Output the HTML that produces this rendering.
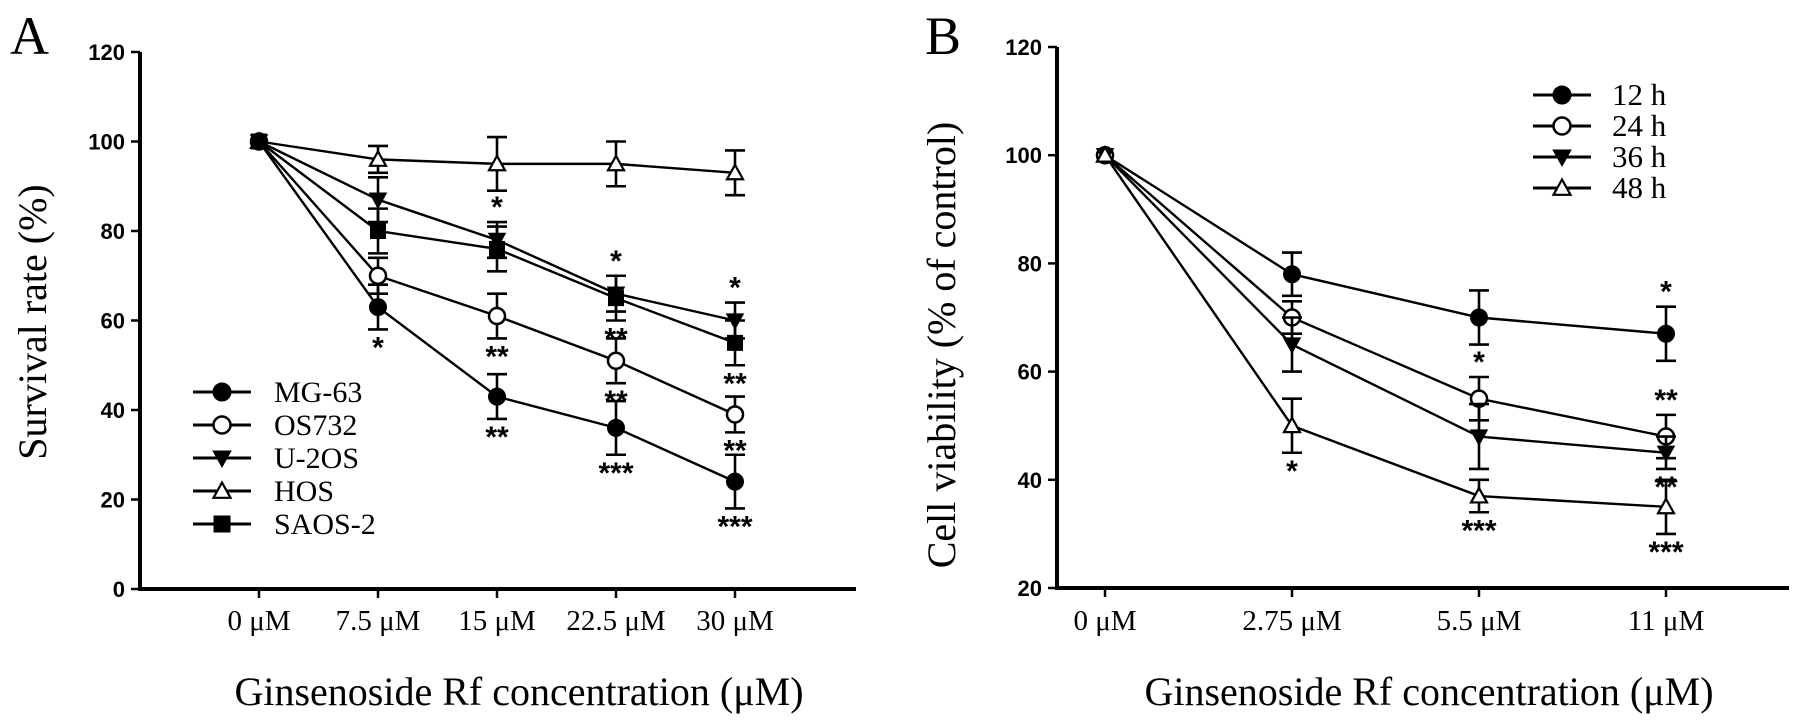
<!DOCTYPE html>
<html><head><meta charset="utf-8"><style>
html,body{margin:0;padding:0;background:#fff;}
svg{display:block;}
.tick{font-family:"Liberation Sans",sans-serif;font-weight:bold;font-size:22px;}
.ser{font-family:"Liberation Serif",serif;}
</style></head><body>
<svg id="fig" width="1795" height="724" viewBox="0 0 1795 724" xmlns="http://www.w3.org/2000/svg"></svg>
<script>
// Panel A data
const catsA = ["0 \u03bcM","7.5 \u03bcM","15 \u03bcM","22.5 \u03bcM","30 \u03bcM"];
const ticksA = [0,20,40,60,80,100,120];
const namesA = ["MG-63","OS732","U-2OS","HOS","SAOS-2"];
const mg63 = [100,63,43,36,24];
const mg63Err = [0,5,5,6,6];
const os732 = [100,70,61,51,39];
const os732Err = [0,4,5,5,4];
const u2os = [100,87,78,66,60];
const u2osErr = [0,5,4,4,4];
const hos = [100,96,95,95,93];
const hosErr = [0,3,6,5,5];
const saos2 = [100,80,76,65,55];
const saos2Err = [0,5,5,5,5];
// Panel B data
const catsB = ["0 \u03bcM","2.75 \u03bcM","5.5 \u03bcM","11 \u03bcM"];
const ticksB = [20,40,60,80,100,120];
const namesB = ["12 h","24 h","36 h","48 h"];
const h12 = [100,78,70,67];
const h12Err = [0,4,5,5];
const h24 = [100,70,55,48];
const h24Err = [0,3,4,4];
const h36 = [100,65,48,45];
const h36Err = [0,5,6,3];
const h48 = [100,50,37,35];
const h48Err = [0,5,3,5];

const NS="http://www.w3.org/2000/svg";
const svg=document.getElementById('fig');
function mk(tag,attrs,parent){const e=document.createElementNS(NS,tag);for(const k in attrs)e.setAttribute(k,attrs[k]);(parent||svg).appendChild(e);return e;}

function marker(g,type,cx,cy,r){
  let e;
  if(type==='fc'){e=mk('circle',{cx:cx,cy:cy,r:r,fill:'#000',stroke:'#000','stroke-width':2},g);}
  else if(type==='oc'){e=mk('circle',{cx:cx,cy:cy,r:r,fill:'#fff',stroke:'#000','stroke-width':2.5},g);}
  else if(type==='dt'){e=mk('polygon',{points:`${cx-r},${cy-r*0.8} ${cx+r},${cy-r*0.8} ${cx},${cy+r}`,fill:'#000',stroke:'#000','stroke-width':1.5},g);}
  else if(type==='ut'){e=mk('polygon',{points:`${cx-r},${cy+r*0.8} ${cx+r},${cy+r*0.8} ${cx},${cy-r}`,fill:'#fff',stroke:'#000','stroke-width':2.2},g);}
  else {e=mk('rect',{x:cx-r,y:cy-r,width:2*r,height:2*r,fill:'#000'},g);}
  return e;
}

function panel(cfg){
  const {ax,yTop,yBot,vMin,vMax,xs,xEnd,cats,ticks,series,yTitle,yTitleX,yTitleY,xTitleX,letter,letterX}=cfg;
  const Y=v=>yBot-(v-vMin)/(vMax-vMin)*(yBot-yTop);
  const X=i=>xs[0]+i*(xs[1]-xs[0]);
  const g=mk('g',{});
  
  
  const L=mk('text',{x:letterX,y:54,'font-size':54,class:'ser'},g);L.textContent=letter;
  
  const ya=mk('line',{x1:ax,y1:yTop,x2:ax,y2:yBot+2,stroke:'#000','stroke-width':4},g);
  
  const xa=mk('line',{x1:ax-2,y1:yBot,x2:xEnd,y2:yBot,stroke:'#000','stroke-width':4},g);
  
  ticks.forEach(t=>{
    mk('line',{x1:ax-9,y1:Y(t),x2:ax,y2:Y(t),stroke:'#000','stroke-width':2.5},g);
    const tl=mk('text',{x:ax-15,y:Y(t)+8,'text-anchor':'end',class:'tick'},g);tl.textContent=t;
    
  });
  cats.forEach((c,i)=>{
    mk('line',{x1:X(i),y1:yBot,x2:X(i),y2:yBot+9,stroke:'#000','stroke-width':2.5},g);
    const tl=mk('text',{x:X(i),y:630,'text-anchor':'middle','font-size':29,class:'ser'},g);tl.textContent=c;
    
  });
  const yt=mk('text',{x:0,y:0,'text-anchor':'middle','font-size':40,class:'ser',transform:`translate(${yTitleX},${yTitleY}) rotate(-90)`},g);
  yt.textContent=yTitle;
  const xt=mk('text',{x:xTitleX,y:705,'text-anchor':'middle','font-size':40,class:'ser'},g);
  xt.textContent="Ginsenoside Rf concentration (\u03bcM)";
  series.forEach(s=>{
    const sg=mk('g',{},g);
    
    const pts=s.vals.map((v,i)=>X(i)+','+Y(v)).join(' ');
    mk('polyline',{points:pts,fill:'none',stroke:'#000','stroke-width':2.4},sg);
    s.vals.forEach((v,i)=>{
      const e=s.err[i];
      if(e>0){
        mk('line',{x1:X(i),y1:Y(v+e),x2:X(i),y2:Y(v-e),stroke:'#000','stroke-width':2.6},sg);
        mk('line',{x1:X(i)-10,y1:Y(v+e),x2:X(i)+10,y2:Y(v+e),stroke:'#000','stroke-width':2.6},sg);
        mk('line',{x1:X(i)-10,y1:Y(v-e),x2:X(i)+10,y2:Y(v-e),stroke:'#000','stroke-width':2.6},sg);
      }
      const m=marker(sg,s.type,X(i),Y(v),8);
      
    });
    (s.stars||[]).forEach((st,i)=>{
      if(!st)return;
      const pos=st[1]==='a'?Y(s.vals[i]+s.err[i])-5:Y(s.vals[i]-s.err[i])+28;
      const t=mk('text',{x:X(i),y:pos,'text-anchor':'middle','font-size':30,'font-weight':'bold',class:'tick'},sg);
      t.setAttribute('style','font-size:30px');
      t.textContent=st[0];
    });
  });
  const lg=mk('g',{},g);
  series.forEach((s,k)=>{
    const y=cfg.legY+k*cfg.legDy;
    const eg=mk('g',{},lg);
    mk('line',{x1:cfg.legX,y1:y,x2:cfg.legX+58,y2:y,stroke:'#000','stroke-width':3},eg);
    marker(eg,s.type,cfg.legX+29,y,8.5);
    const t=mk('text',{x:cfg.legX+cfg.legTx,y:y+10,'font-size':cfg.legFs,class:'ser'},eg);t.textContent=s.label;
  });
}

panel({name:'panel-a',ax:140,yTop:52,yBot:589,vMin:0,vMax:120,xs:[259,378],xEnd:856,cats:catsA,ticks:ticksA,
  yTitle:"Survival rate (%)",yTitleX:46,yTitleY:322,xTitleX:519,letter:"A",letterX:10,
  legX:193,legY:392,legDy:33,legFs:30,legTx:81,
  series:[
   {id:'mg-63',label:namesA[0],vals:mg63,err:mg63Err,type:'fc',stars:[null,['*','b'],['**','b'],['***','b'],['***','b']]},
   {id:'os732',label:namesA[1],vals:os732,err:os732Err,type:'oc',stars:[null,null,['**','b'],['**','b'],['**','b']]},
   {id:'u-2os',label:namesA[2],vals:u2os,err:u2osErr,type:'dt',stars:[null,null,['*','a'],['*','a'],['*','a']]},
   {id:'hos',label:namesA[3],vals:hos,err:hosErr,type:'ut'},
   {id:'saos-2',label:namesA[4],vals:saos2,err:saos2Err,type:'sq',stars:[null,null,null,['**','b'],['**','b']]}
  ]});
panel({name:'panel-b',ax:1057,yTop:47,yBot:588,vMin:20,vMax:120,xs:[1105,1292],xEnd:1789,cats:catsB,ticks:ticksB,
  yTitle:"Cell viability (% of control)",yTitleX:955,yTitleY:345,xTitleX:1429,letter:"B",letterX:925,
  legX:1533,legY:95,legDy:31,legFs:31,legTx:79,
  series:[
   {id:'12h',label:namesB[0],vals:h12,err:h12Err,type:'fc',stars:[null,null,null,['*','a']]},
   {id:'24h',label:namesB[1],vals:h24,err:h24Err,type:'oc',stars:[null,null,['*','a'],['**','a']]},
   {id:'36h',label:namesB[2],vals:h36,err:h36Err,type:'dt',stars:[null,null,null,['**','b']]},
   {id:'48h',label:namesB[3],vals:h48,err:h48Err,type:'ut',stars:[null,['*','b'],['***','b'],['***','b']]}
  ]});
</script>
</body></html>
